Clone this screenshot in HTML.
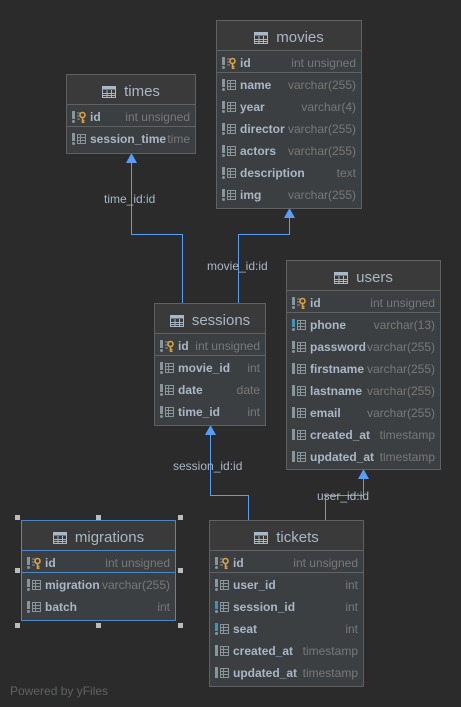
<!DOCTYPE html>
<html><head><meta charset="utf-8"><style>
*{margin:0;padding:0;box-sizing:border-box}
body{width:461px;height:707px;background:#2b2b2b;position:relative;overflow:hidden;font-family:"Liberation Sans",sans-serif}
.t{position:absolute;border:1px solid #5f6163;background:#3c3f41}
.t.sel{border-color:#4a88c7}
.h{height:30px;line-height:34px;text-align:center;color:#a9b7c6;font-size:15px;background:#3a3a3a;border-bottom:1px solid #5f6163;overflow:hidden}
.sel .h,.sel .idr{border-color:#4a88c7}
.h svg{vertical-align:-2px;margin-right:8px}
.r{height:22px;line-height:25px;position:relative;padding-left:23px;font-size:12px;font-weight:bold;color:#a9b7c6;white-space:nowrap}
.idr{border-bottom:1px solid #5f6163}
.r svg{position:absolute;left:5px;top:6px}
.ty{position:absolute;right:5px;top:0;font-weight:normal;color:#787878}
.lb{position:absolute;font-size:12px;color:#a9b7c6;background:transparent;white-space:nowrap}
.hd{position:absolute;width:5px;height:5px;background:#bbb}
</style></head><body>
<svg width="0" height="0" style="position:absolute">
<defs>
<symbol id="tb" viewBox="0 0 14 12"><rect x="0.5" y="0.5" width="13" height="11" fill="none" stroke="#a9b7c6"/><rect x="0.5" y="0.5" width="13" height="3" fill="#a9b7c6"/><path d="M0 7.5H14M0 9.5H14M5 4V12M9.5 4V12" stroke="#a9b7c6" stroke-width="1"/></symbol>
<symbol id="col" viewBox="0 0 14 12"><rect x="0" y="0" width="3" height="8" fill="#8a959b"/><circle cx="1.5" cy="10.5" r="1.5" fill="#8a959b"/><rect x="5.5" y="1.5" width="8" height="9" fill="none" stroke="#8a959b"/><path d="M5 4.5H14M5 7.5H14M8.5 1V11" stroke="#8a959b"/></symbol>
<symbol id="colb" viewBox="0 0 14 12"><rect x="0" y="0" width="3" height="8" fill="#3d93b8"/><circle cx="1.5" cy="10.5" r="1.5" fill="#8a959b"/><rect x="5.5" y="1.5" width="8" height="9" fill="none" stroke="#8a959b"/><path d="M5 4.5H14M5 7.5H14M8.5 1V11" stroke="#8a959b"/></symbol>
<symbol id="coln" viewBox="0 0 14 12"><rect x="0" y="0" width="3" height="11" fill="#8a959b"/><rect x="5.5" y="1.5" width="8" height="9" fill="none" stroke="#8a959b"/><path d="M5 4.5H14M5 7.5H14M8.5 1V11" stroke="#8a959b"/></symbol>
<symbol id="key" viewBox="0 0 14 12"><rect x="0" y="0" width="3" height="8" fill="#8a959b"/><circle cx="1.5" cy="10.5" r="1.5" fill="#8a959b"/><path d="M5 2H9M5 5H8M5 8H8" stroke="#8a959b"/><circle cx="10.5" cy="4" r="2.5" fill="none" stroke="#d9a343" stroke-width="1.6"/><path d="M10.5 6.5V12M10.5 9.5H12.5M10.5 11.5H12.5" stroke="#d9a343" stroke-width="1.6"/></symbol>
</defs></svg>

<svg width="461" height="707" style="position:absolute;left:0;top:0">
<g fill="none" stroke="#589df6" stroke-width="1">
<path d="M182.5 303V234.5H131.5V160"/>
<path d="M238.5 303V234.5H289.5V215"/>
<path d="M248.5 520V495.5H210.5V432"/>
<path d="M325.5 520V495.5H363.5V476"/>
</g>
<g fill="#589df6">
<path d="M131.5 153L126 163H137Z"/>
<path d="M289.5 208L284 218H295Z"/>
<path d="M210.5 425L205 435H216Z"/>
<path d="M363.5 469L358 479H369Z"/>
</g>
</svg>
<div class="lb" style="left:104px;top:192px">time_id:id</div>
<div class="lb" style="left:207px;top:259px">movie_id:id</div>
<div class="lb" style="left:173px;top:459px">session_id:id</div>
<div class="lb" style="left:317px;top:489px">user_id:id</div>

<div class="t" style="left:66px;top:74px;width:130px;height:80px">
<div class="h"><svg width="14" height="12"><use href="#tb"/></svg>times</div>
<div class="r idr"><svg width="14" height="12"><use href="#key"/></svg>id<span class="ty">int unsigned</span></div>
<div class="r"><svg width="14" height="12"><use href="#col"/></svg>session_time<span class="ty">time</span></div>
</div>

<div class="t" style="left:216px;top:20px;width:146px;height:189px">
<div class="h"><svg width="14" height="12"><use href="#tb"/></svg>movies</div>
<div class="r idr"><svg width="14" height="12"><use href="#key"/></svg>id<span class="ty">int unsigned</span></div>
<div class="r"><svg width="14" height="12"><use href="#col"/></svg>name<span class="ty">varchar(255)</span></div>
<div class="r"><svg width="14" height="12"><use href="#col"/></svg>year<span class="ty">varchar(4)</span></div>
<div class="r"><svg width="14" height="12"><use href="#col"/></svg>director<span class="ty">varchar(255)</span></div>
<div class="r"><svg width="14" height="12"><use href="#col"/></svg>actors<span class="ty">varchar(255)</span></div>
<div class="r"><svg width="14" height="12"><use href="#col"/></svg>description<span class="ty">text</span></div>
<div class="r"><svg width="14" height="12"><use href="#col"/></svg>img<span class="ty">varchar(255)</span></div>
</div>

<div class="t" style="left:286px;top:260px;width:155px;height:210px">
<div class="h"><svg width="14" height="12"><use href="#tb"/></svg>users</div>
<div class="r idr"><svg width="14" height="12"><use href="#key"/></svg>id<span class="ty">int unsigned</span></div>
<div class="r"><svg width="14" height="12"><use href="#colb"/></svg>phone<span class="ty">varchar(13)</span></div>
<div class="r"><svg width="14" height="12"><use href="#col"/></svg>password<span class="ty">varchar(255)</span></div>
<div class="r"><svg width="14" height="12"><use href="#coln"/></svg>firstname<span class="ty">varchar(255)</span></div>
<div class="r"><svg width="14" height="12"><use href="#coln"/></svg>lastname<span class="ty">varchar(255)</span></div>
<div class="r"><svg width="14" height="12"><use href="#coln"/></svg>email<span class="ty">varchar(255)</span></div>
<div class="r"><svg width="14" height="12"><use href="#coln"/></svg>created_at<span class="ty">timestamp</span></div>
<div class="r"><svg width="14" height="12"><use href="#coln"/></svg>updated_at<span class="ty">timestamp</span></div>
</div>

<div class="t" style="left:154px;top:303px;width:112px;height:123px">
<div class="h"><svg width="14" height="12"><use href="#tb"/></svg>sessions</div>
<div class="r idr"><svg width="14" height="12"><use href="#key"/></svg>id<span class="ty">int unsigned</span></div>
<div class="r"><svg width="14" height="12"><use href="#col"/></svg>movie_id<span class="ty">int</span></div>
<div class="r"><svg width="14" height="12"><use href="#col"/></svg>date<span class="ty">date</span></div>
<div class="r"><svg width="14" height="12"><use href="#col"/></svg>time_id<span class="ty">int</span></div>
</div>

<div class="t sel" style="left:21px;top:520px;width:155px;height:101px">
<div class="h"><svg width="14" height="12"><use href="#tb"/></svg>migrations</div>
<div class="r idr"><svg width="14" height="12"><use href="#key"/></svg>id<span class="ty">int unsigned</span></div>
<div class="r"><svg width="14" height="12"><use href="#col"/></svg>migration<span class="ty">varchar(255)</span></div>
<div class="r"><svg width="14" height="12"><use href="#col"/></svg>batch<span class="ty">int</span></div>
</div>
<div class="hd" style="left:15px;top:515px"></div>
<div class="hd" style="left:96px;top:515px"></div>
<div class="hd" style="left:178px;top:515px"></div>
<div class="hd" style="left:15px;top:568px"></div>
<div class="hd" style="left:178px;top:568px"></div>
<div class="hd" style="left:15px;top:623px"></div>
<div class="hd" style="left:96px;top:623px"></div>
<div class="hd" style="left:178px;top:623px"></div>

<div class="t" style="left:209px;top:520px;width:155px;height:167px">
<div class="h"><svg width="14" height="12"><use href="#tb"/></svg>tickets</div>
<div class="r idr"><svg width="14" height="12"><use href="#key"/></svg>id<span class="ty">int unsigned</span></div>
<div class="r"><svg width="14" height="12"><use href="#col"/></svg>user_id<span class="ty">int</span></div>
<div class="r"><svg width="14" height="12"><use href="#colb"/></svg>session_id<span class="ty">int</span></div>
<div class="r"><svg width="14" height="12"><use href="#colb"/></svg>seat<span class="ty">int</span></div>
<div class="r"><svg width="14" height="12"><use href="#coln"/></svg>created_at<span class="ty">timestamp</span></div>
<div class="r"><svg width="14" height="12"><use href="#coln"/></svg>updated_at<span class="ty">timestamp</span></div>
</div>

<div class="lb" style="left:10px;top:684px;color:#5f6163">Powered by yFiles</div>
</body></html>
